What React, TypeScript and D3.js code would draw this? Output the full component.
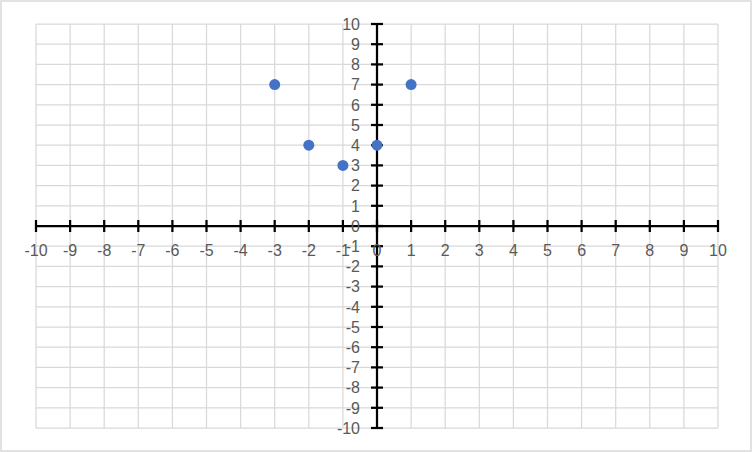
import React from "react";
import * as d3 from "d3";

const xValues = [-3, -2, -1, 0, 1];
const yValues = [7, 4, 3, 4, 7];
const tickValues = d3.range(-10, 11);

const W = 752;
const H = 452;

export default function App() {
  const x = d3.scaleLinear().domain([-10, 10]).range([36, 718]);
  const y = d3.scaleLinear().domain([-10, 10]).range([428, 24]);
  const x0 = x(0);
  const y0 = y(0);
  const labelColor = "#595959";
  const font = "'Liberation Sans', Arial, sans-serif";
  return (
    <svg
      width={W}
      height={H}
      style={{ position: "absolute", left: 0, top: 0, background: "#fff" }}
    >
      <rect x={0} y={0} width={W} height={H} fill="#fff" />
      <rect x={1} y={1} width={W - 2} height={H - 2} fill="none" stroke="#d9d9d9" strokeWidth={1.5} />
      {/* gridlines */}
      {tickValues.map((t) => (
        <line key={"gx" + t} x1={x(t)} x2={x(t)} y1={y(10)} y2={y(-10)} stroke="#d9d9d9" strokeWidth={1.25} />
      ))}
      {tickValues.map((t) => (
        <line key={"gy" + t} x1={x(-10)} x2={x(10)} y1={y(t)} y2={y(t)} stroke="#d9d9d9" strokeWidth={1.25} />
      ))}
      {/* axes */}
      <line x1={x(-10)} x2={x(10)} y1={y0} y2={y0} stroke="#000" strokeWidth={2.25} />
      <line x1={x0} x2={x0} y1={y(10)} y2={y(-10)} stroke="#000" strokeWidth={2.25} />
      {tickValues.map((t) => (
        <line key={"tx" + t} x1={x(t)} x2={x(t)} y1={y0 - 6} y2={y0 + 6} stroke="#000" strokeWidth={2.25} />
      ))}
      {tickValues.map((t) => (
        <line key={"ty" + t} x1={x0 - 6} x2={x0 + 6} y1={y(t)} y2={y(t)} stroke="#000" strokeWidth={2.25} />
      ))}
      {/* labels */}
      {tickValues.map((t) => (
        <text
          key={"lx" + t}
          x={x(t)}
          y={y0 + 30}
          textAnchor="middle"
          fontFamily={font}
          fontSize={16}
          fill={labelColor}
        >
          {t}
        </text>
      ))}
      {tickValues.map((t) => (
        <text
          key={"ly" + t}
          x={x0 - 17}
          y={y(t)}
          dy="0.36em"
          textAnchor="end"
          fontFamily={font}
          fontSize={16}
          fill={labelColor}
        >
          {t}
        </text>
      ))}
      {/* points */}
      {xValues.map((v, i) => (
        <circle key={"p" + i} cx={x(v)} cy={y(yValues[i])} r={5.5} fill="#4472C4" />
      ))}
    </svg>
  );
}
